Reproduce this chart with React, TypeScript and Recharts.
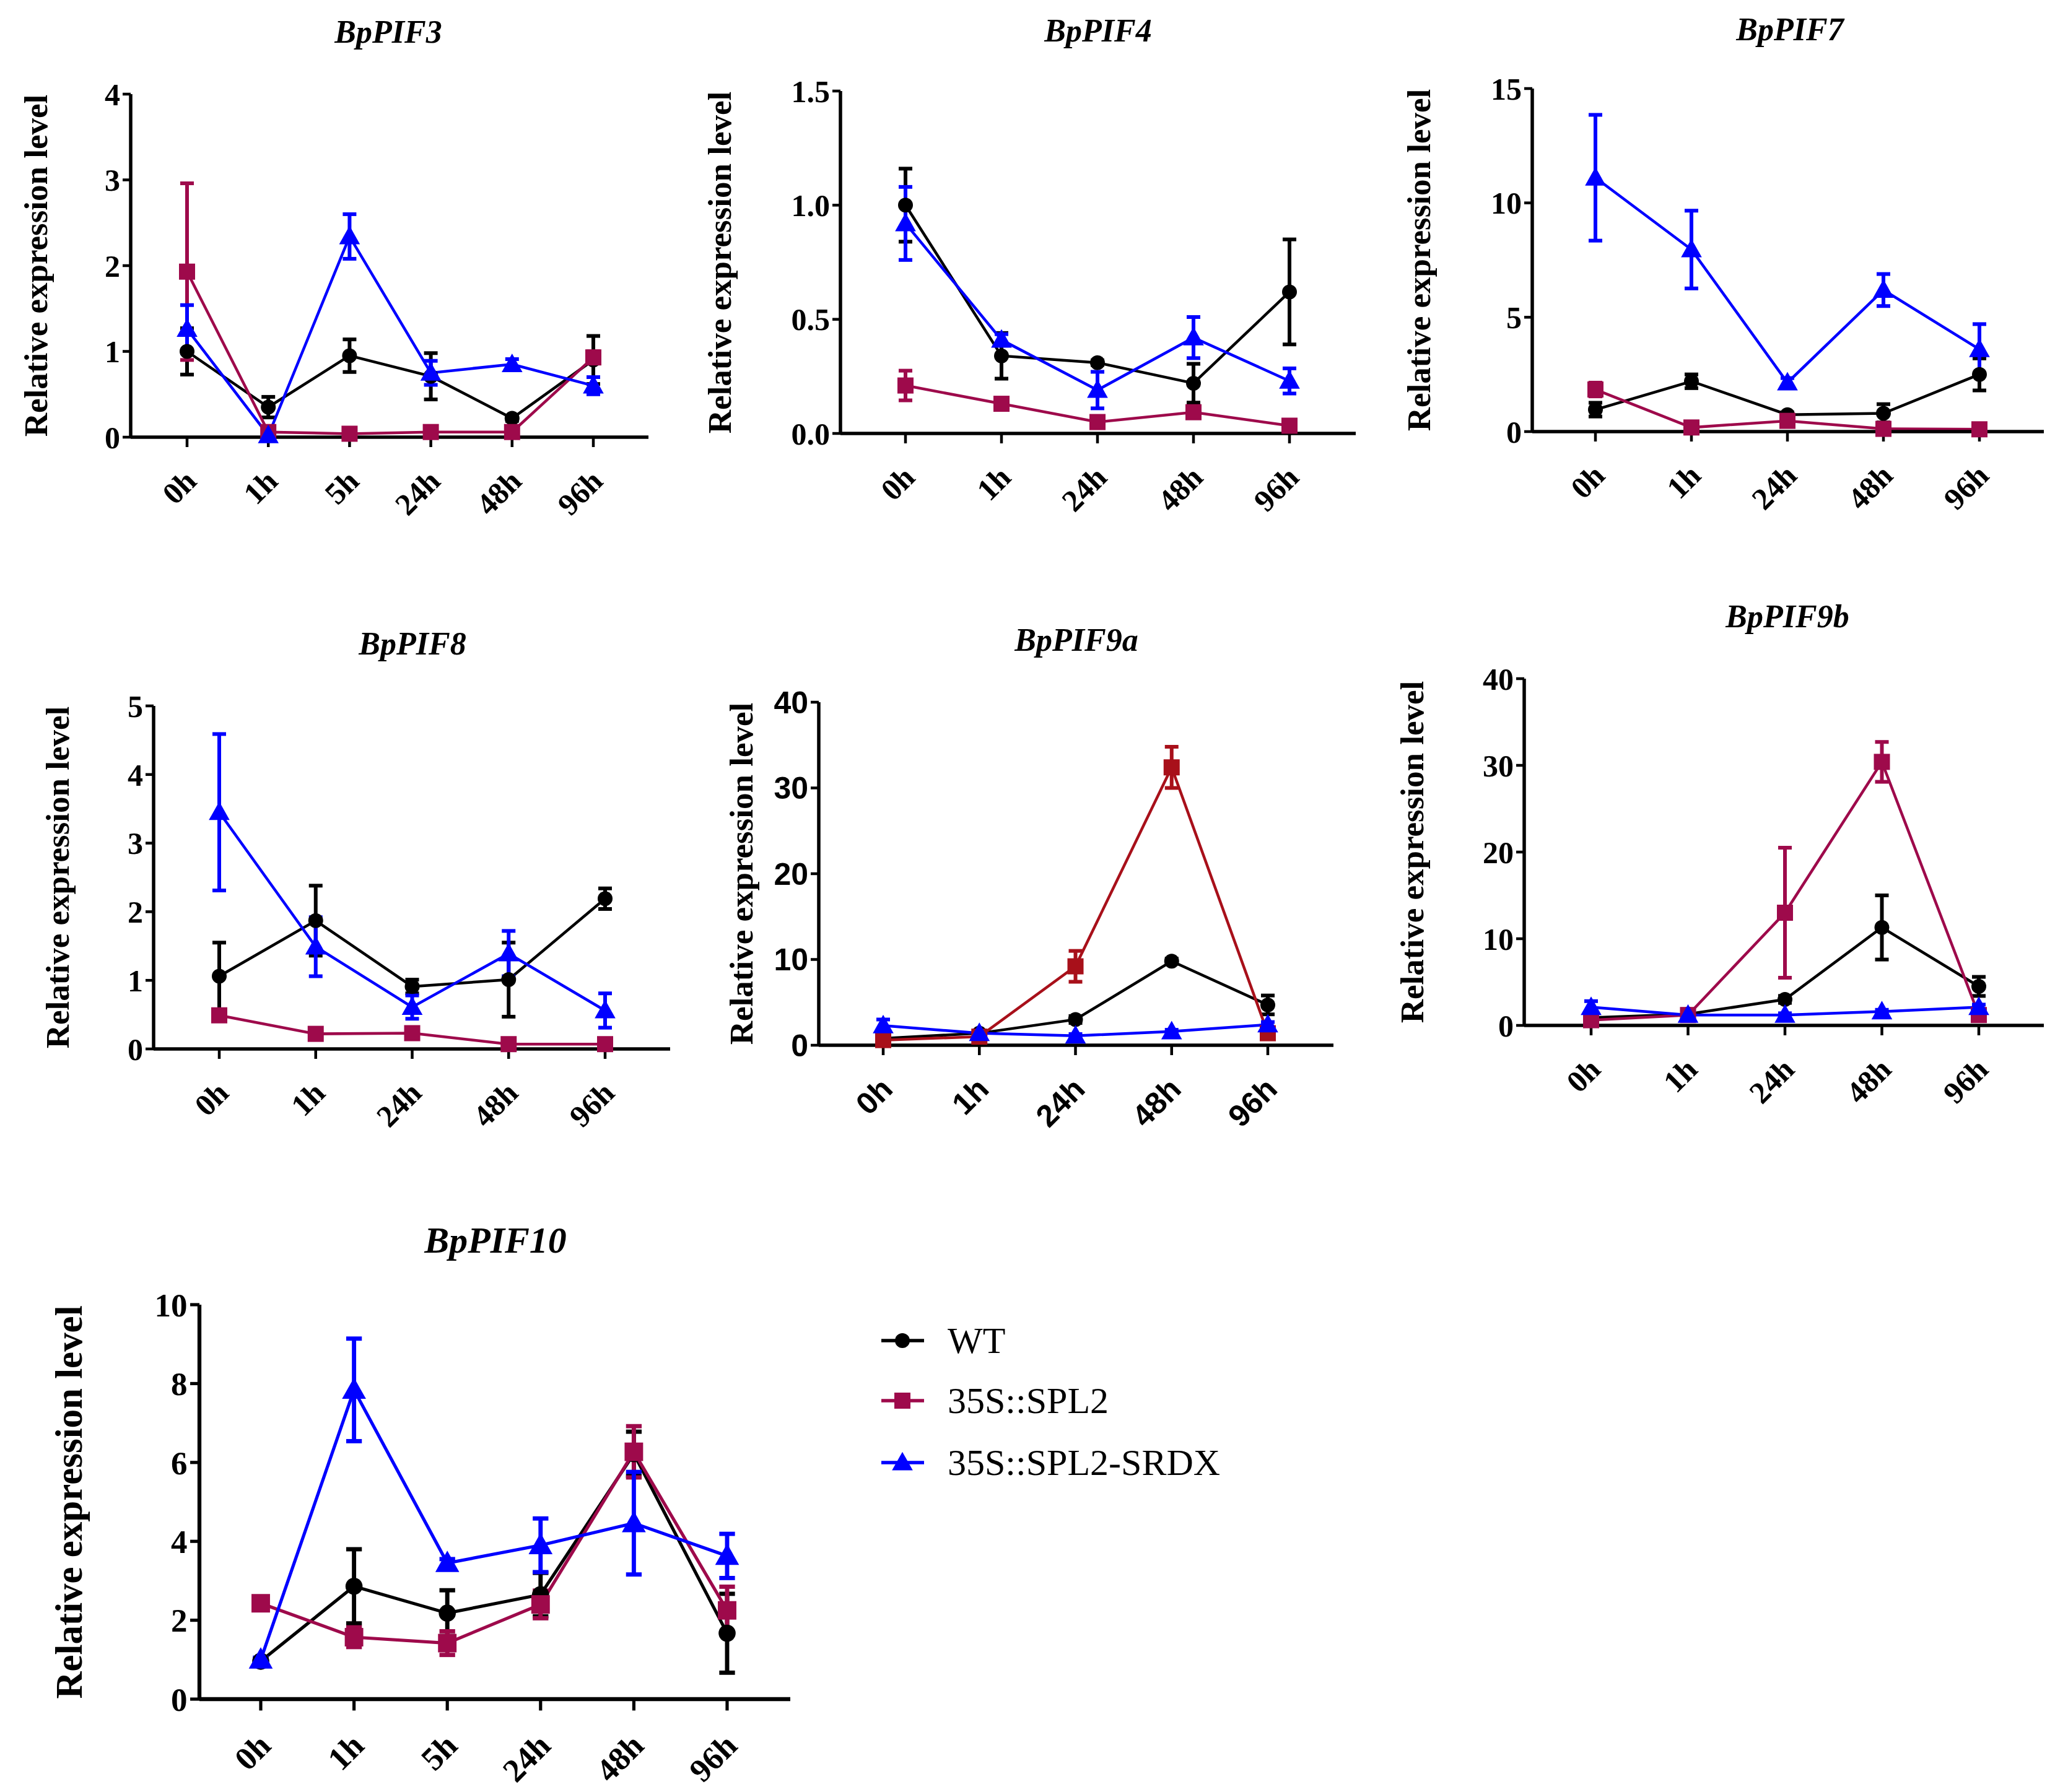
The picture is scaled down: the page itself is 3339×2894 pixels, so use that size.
import React from 'react'
import { LineChart, Line, XAxis, YAxis, ErrorBar } from 'recharts'

const timesLong = ['0h', '1h', '5h', '24h', '48h', '96h']
const timesShort = ['0h', '1h', '24h', '48h', '96h']

// BpPIF3
const pif3Wt = [1.0, 0.35, 0.95, 0.71, 0.22, 0.9]
const pif3WtErr = [0.27, 0.12, 0.19, 0.27, 0.03, 0.28]
const pif3Spl2 = [1.93, 0.06, 0.04, 0.06, 0.06, 0.93]
const pif3Spl2Err = [1.03, 0.02, 0.02, 0.02, 0.02, 0.07]
const pif3Srdx = [1.26, 0.02, 2.34, 0.75, 0.85, 0.6]
const pif3SrdxErr = [0.28, 0.01, 0.26, 0.14, 0.06, 0.1]
const pif3Ticks = [0, 1, 2, 3, 4]

// BpPIF4
const pif4Wt = [1.0, 0.34, 0.31, 0.22, 0.62]
const pif4WtErr = [0.16, 0.1, 0.01, 0.085, 0.23]
const pif4Spl2 = [0.21, 0.13, 0.05, 0.093, 0.034]
const pif4Spl2Err = [0.065, 0.015, 0.01, 0.015, 0.01]
const pif4Srdx = [0.92, 0.41, 0.19, 0.42, 0.23]
const pif4SrdxErr = [0.16, 0.025, 0.08, 0.09, 0.055]
const pif4Ticks = [0, 0.5, 1.0, 1.5]

// BpPIF7
const pif7Wt = [0.96, 2.2, 0.74, 0.8, 2.5]
const pif7WtErr = [0.3, 0.3, 0.1, 0.4, 0.7]
const pif7Spl2 = [1.84, 0.18, 0.47, 0.12, 0.1]
const pif7Spl2Err = [0.3, 0.05, 0.05, 0.03, 0.03]
const pif7Srdx = [11.1, 7.96, 2.14, 6.19, 3.6]
const pif7SrdxErr = [2.75, 1.7, 0.2, 0.7, 1.1]
const pif7Ticks = [0, 5, 10, 15]

// BpPIF8
const pif8Wt = [1.06, 1.87, 0.91, 1.01, 2.19]
const pif8WtErr = [0.49, 0.51, 0.1, 0.54, 0.15]
const pif8Spl2 = [0.49, 0.22, 0.23, 0.07, 0.07]
const pif8Spl2Err = [0.04, 0.07, 0.06, 0.02, 0.02]
const pif8Srdx = [3.45, 1.49, 0.61, 1.39, 0.56]
const pif8SrdxErr = [1.14, 0.43, 0.17, 0.33, 0.25]
const pif8Ticks = [0, 1, 2, 3, 4, 5]

// BpPIF9a
const pif9aWt = [0.8, 1.4, 3.0, 9.8, 4.7]
const pif9aWtErr = [0.2, 0.2, 0.4, 0.3, 1.1]
const pif9aSpl2 = [0.6, 1.0, 9.2, 32.4, 1.4]
const pif9aSpl2Err = [0.2, 0.2, 1.8, 2.4, 0.3]
const pif9aSrdx = [2.3, 1.4, 1.1, 1.6, 2.4]
const pif9aSrdxErr = [0.7, 0.3, 0.2, 0.2, 0.3]
const pif9aTicks = [0, 10, 20, 30, 40]

// BpPIF9b
const pif9bWt = [0.9, 1.3, 3.0, 11.3, 4.5]
const pif9bWtErr = [0.2, 0.2, 0.4, 3.7, 1.1]
const pif9bSpl2 = [0.6, 1.2, 13.0, 30.4, 1.2]
const pif9bSpl2Err = [0.2, 0.2, 7.5, 2.3, 0.3]
const pif9bSrdx = [2.1, 1.2, 1.2, 1.6, 2.1]
const pif9bSrdxErr = [0.7, 0.3, 0.2, 0.2, 0.3]
const pif9bTicks = [0, 10, 20, 30, 40]

// BpPIF10
const pif10Wt = [0.96, 2.86, 2.18, 2.65, 6.22, 1.67]
const pif10WtErr = [0.05, 0.94, 0.58, 0.55, 0.56, 1.0]
const pif10Spl2 = [2.43, 1.57, 1.42, 2.4, 6.27, 2.25]
const pif10Spl2Err = [0.1, 0.25, 0.3, 0.35, 0.65, 0.6]
const pif10Srdx = [1.0, 7.84, 3.45, 3.9, 4.46, 3.63]
const pif10SrdxErr = [0.05, 1.3, 0.1, 0.68, 1.3, 0.56]
const pif10Ticks = [0, 2, 4, 6, 8, 10]

const seriesNames = ['WT', '35S::SPL2', '35S::SPL2-SRDX']

const SERIF = "'Liberation Serif', 'Times New Roman', serif"
const SANS = "'Liberation Sans', Arial, sans-serif"

function rows(times, wt, wtErr, spl2, spl2Err, srdx, srdxErr) {
  return times.map((time, i) => ({
    time,
    wt: wt[i],
    wtErr: wtErr[i],
    spl2: spl2[i],
    spl2Err: spl2Err[i],
    srdx: srdx[i],
    srdxErr: srdxErr[i],
  }))
}

function marker(kind, color, cx, cy, size, key) {
  if (cx == null || cy == null || isNaN(cx) || isNaN(cy)) return <g key={key} />
  if (kind === 'circle') return <circle key={key} cx={cx} cy={cy} r={size / 2} fill={color} />
  if (kind === 'square')
    return <rect key={key} x={cx - size / 2} y={cy - size / 2} width={size} height={size} fill={color} />
  const w = size * 0.6
  return (
    <polygon
      key={key}
      points={`${cx},${cy - size * 0.62} ${cx + w},${cy + size * 0.45} ${cx - w},${cy + size * 0.45}`}
      fill={color}
    />
  )
}

const panels = [
  {
    title: 'BpPIF3', data: rows(timesLong, pif3Wt, pif3WtErr, pif3Spl2, pif3Spl2Err, pif3Srdx, pif3SrdxErr),
    ticks: pif3Ticks, axisX: 211, right: 1047, top: 152, bottom: 706, padL: 91, padR: 89,
    titleX: 627, titleY: 52, labelX: 58, scale: 1, tickScale: 1, sans: false, red: '#9e0a4b',
  },
  {
    title: 'BpPIF4', data: rows(timesShort, pif4Wt, pif4WtErr, pif4Spl2, pif4Spl2Err, pif4Srdx, pif4SrdxErr),
    ticks: pif4Ticks, axisX: 1357, right: 2189, top: 147, bottom: 700, padL: 105, padR: 107,
    titleX: 1773, titleY: 50, labelX: 1162, scale: 1, tickScale: 1, sans: false, red: '#9e0a4b', decimals: 1,
  },
  {
    title: 'BpPIF7', data: rows(timesShort, pif7Wt, pif7WtErr, pif7Spl2, pif7Spl2Err, pif7Srdx, pif7SrdxErr),
    ticks: pif7Ticks, axisX: 2474, right: 3300, top: 143, bottom: 697, padL: 102, padR: 104,
    titleX: 2890, titleY: 48, labelX: 2291, scale: 1, tickScale: 1, sans: false, red: '#9e0a4b',
  },
  {
    title: 'BpPIF8', data: rows(timesShort, pif8Wt, pif8WtErr, pif8Spl2, pif8Spl2Err, pif8Srdx, pif8SrdxErr),
    ticks: pif8Ticks, axisX: 248, right: 1082, top: 1140, bottom: 1694, padL: 106, padR: 105,
    titleX: 666, titleY: 1040, labelX: 93, scale: 1, tickScale: 1, sans: false, red: '#9e0a4b',
  },
  {
    title: 'BpPIF9a', data: rows(timesShort, pif9aWt, pif9aWtErr, pif9aSpl2, pif9aSpl2Err, pif9aSrdx, pif9aSrdxErr),
    ticks: pif9aTicks, axisX: 1322, right: 2153, top: 1134, bottom: 1688, padL: 104, padR: 106,
    titleX: 1738, titleY: 1034, labelX: 1197, scale: 1, tickScale: 1, sans: true, red: '#a8101a',
  },
  {
    title: 'BpPIF9b', data: rows(timesShort, pif9bWt, pif9bWtErr, pif9bSpl2, pif9bSpl2Err, pif9bSrdx, pif9bSrdxErr),
    ticks: pif9bTicks, axisX: 2461, right: 3300, top: 1096, bottom: 1656, padL: 108, padR: 105,
    titleX: 2886, titleY: 996, labelX: 2280, scale: 1, tickScale: 1, sans: false, red: '#9e0a4b',
  },
  {
    title: 'BpPIF10', data: rows(timesLong, pif10Wt, pif10WtErr, pif10Spl2, pif10Spl2Err, pif10Srdx, pif10SrdxErr),
    ticks: pif10Ticks, axisX: 322, right: 1276, top: 2107, bottom: 2744, padL: 99, padR: 102,
    titleX: 800, titleY: 2004, labelX: 112, scale: 1.15, tickScale: 1.06, sans: false, red: '#9e0a4b',
  },
]

function XTick({ x, y, payload, font, size, dx, dy }) {
  return (
    <text
      x={x + dx}
      y={y + dy}
      transform={`rotate(-45, ${x + dx}, ${y + dy})`}
      textAnchor="end"
      fontFamily={font}
      fontWeight="bold"
      fontSize={size}
      fill="#000"
    >
      {payload.value}
    </text>
  )
}

function Panel({ p }) {
  const leftSpace = 160
  const topSpace = 30
  const rightSpace = 30
  const bottomSpace = 200
  const plotW = p.right - p.axisX
  const plotH = p.bottom - p.top
  const k = p.scale
  const t = p.tickScale
  const tickFont = p.sans ? SANS : SERIF
  const tickSize = 50 * t
  const max = p.ticks[p.ticks.length - 1]
  const kinds = [
    { key: 'wt', color: '#000000', shape: 'circle', size: 24 * k },
    { key: 'spl2', color: p.red, shape: 'square', size: 26 * k },
    { key: 'srdx', color: '#0000ff', shape: 'triangle', size: 28 * k },
  ]
  return (
    <>
      <div style={{ position: 'absolute', left: p.axisX - leftSpace, top: p.top - topSpace }}>
        <LineChart
          width={leftSpace + plotW + rightSpace}
          height={topSpace + plotH + bottomSpace}
          data={p.data}
          margin={{ top: topSpace, right: rightSpace, left: 0, bottom: 0 }}
        >
          <XAxis
            dataKey="time"
            type="category"
            interval={0}
            height={bottomSpace}
            padding={{ left: p.padL, right: p.padR }}
            axisLine={{ stroke: '#000', strokeWidth: 5.5 * k }}
            tickLine={{ stroke: '#000', strokeWidth: 4.5 * k }}
            tickSize={16 * k}
            tickMargin={0}
            tick={(tk) => (
              <XTick {...tk} font={tickFont} size={tickSize} dx={18 * t} dy={74 * t - 16 * k} />
            )}
          />
          <YAxis
            type="number"
            domain={[0, max]}
            ticks={p.ticks}
            width={leftSpace}
            axisLine={{ stroke: '#000', strokeWidth: 5.5 * k }}
            tickLine={{ stroke: '#000', strokeWidth: 4.5 * k }}
            tickSize={13 * k}
            tickMargin={4 * k}
            tickFormatter={(v) => (p.decimals ? v.toFixed(p.decimals) : String(v))}
            tick={{ fontFamily: tickFont, fontWeight: 'bold', fontSize: tickSize, fill: '#000' }}
          />
          {kinds.map((s) => (
            <Line
              key={s.key}
              dataKey={s.key}
              type="linear"
              stroke={s.color}
              strokeWidth={4.5 * k}
              isAnimationActive={false}
              activeDot={false}
              dot={(d) => marker(s.shape, s.color, d.cx, d.cy, s.size, `${s.key}-${d.index}`)}
            >
              <ErrorBar
                dataKey={`${s.key}Err`}
                direction="y"
                width={11 * k}
                stroke={s.color}
                strokeWidth={6 * k}
                isAnimationActive={false}
              />
            </Line>
          ))}
        </LineChart>
      </div>
      <div
        style={{
          position: 'absolute',
          left: p.titleX,
          top: p.titleY,
          transform: 'translate(-50%, -50%)',
          fontFamily: SERIF,
          fontWeight: 'bold',
          fontStyle: 'italic',
          fontSize: 52 * k,
          whiteSpace: 'nowrap',
          lineHeight: 1,
        }}
      >
        {p.title}
      </div>
      <div
        style={{
          position: 'absolute',
          left: p.labelX,
          top: (p.top + p.bottom) / 2,
          transform: 'translate(-50%, -50%) rotate(-90deg)',
          fontFamily: SERIF,
          fontWeight: 'bold',
          fontSize: 53 * k,
          whiteSpace: 'nowrap',
          lineHeight: 1,
        }}
      >
        Relative expression level
      </div>
    </>
  )
}

function Legend() {
  const rowsY = [65, 162, 262]
  const items = [
    { color: '#000000', shape: 'circle', size: 24 },
    { color: '#9e0a4b', shape: 'square', size: 26 },
    { color: '#0000ff', shape: 'triangle', size: 28 },
  ]
  return (
    <svg style={{ position: 'absolute', left: 1400, top: 2100 }} width={700} height={330}>
      {items.map((it, i) => (
        <g key={i}>
          <line x1={23} x2={92} y1={rowsY[i]} y2={rowsY[i]} stroke={it.color} strokeWidth={5.5} />
          {marker(it.shape, it.color, 57, rowsY[i], it.size, `lg-${i}`)}
          <text x={130} y={rowsY[i]} dominantBaseline="central" fontFamily={SERIF} fontSize={60} fill="#000">
            {seriesNames[i]}
          </text>
        </g>
      ))}
    </svg>
  )
}

export default function App() {
  return (
    <div
      style={{
        position: 'absolute',
        left: 0,
        top: 0,
        width: 3339,
        height: 2894,
        background: '#fff',
        overflow: 'hidden',
      }}
    >
      {panels.map((p) => (
        <Panel key={p.title} p={p} />
      ))}
      <Legend />
    </div>
  )
}
